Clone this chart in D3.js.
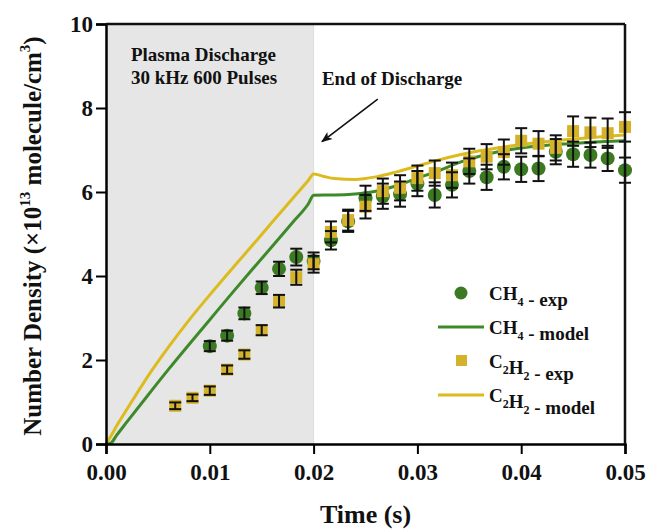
<html>
<head>
  <script src="https://d3js.org/d3.v7.min.js"></script>
  <style>
    body { margin: 0; background: #fff; }
    text { font-family: "Liberation Serif", "Times New Roman", serif; font-weight: bold; }
  </style>
</head>
<body>
<script>
  var width = 646, height = 532;
  var margin = {top: 24, right: 21, bottom: 88, left: 106};

  // experimental points (time in s, density x1e13)
  var ch4Time = [0.0100, 0.01167, 0.01333, 0.0150, 0.01667, 0.01833, 0.0200, 0.02167, 0.02333, 0.0250,
                 0.02667, 0.02833, 0.0300, 0.03167, 0.03333, 0.0350, 0.03667, 0.03833, 0.0400, 0.04167,
                 0.04333, 0.0450, 0.04667, 0.04833, 0.0500];
  var ch4Exp  = [2.33, 2.58, 3.11, 3.72, 4.17, 4.45, 4.36, 4.85, 5.30, 5.85,
                 5.90, 5.95, 6.20, 5.93, 6.17, 6.50, 6.35, 6.60, 6.54, 6.56,
                 6.96, 6.90, 6.88, 6.80, 6.52];
  var ch4Err  = [0.12, 0.12, 0.14, 0.15, 0.17, 0.2, 0.2, 0.22, 0.25, 0.3,
                 0.3, 0.3, 0.3, 0.3, 0.3, 0.3, 0.3, 0.3, 0.3, 0.3,
                 0.3, 0.3, 0.3, 0.3, 0.3];

  var c2h2Time = [0.00667, 0.00833, 0.0100, 0.01167, 0.01333, 0.0150, 0.01667, 0.01833, 0.0200, 0.02167,
                  0.02333, 0.0250, 0.02667, 0.02833, 0.0300, 0.03167, 0.03333, 0.0350, 0.03667, 0.03833,
                  0.0400, 0.04167, 0.04333, 0.0450, 0.04667, 0.04833, 0.0500];
  var c2h2Exp  = [0.91, 1.10, 1.27, 1.77, 2.13, 2.71, 3.40, 3.97, 4.28, 5.05,
                  5.33, 5.65, 6.02, 6.10, 6.33, 6.45, 6.40, 6.73, 6.84, 6.95,
                  7.22, 7.15, 7.05, 7.45, 7.42, 7.40, 7.55];
  var c2h2Err  = [0.08, 0.08, 0.1, 0.1, 0.1, 0.12, 0.15, 0.18, 0.2, 0.25,
                  0.25, 0.28, 0.3, 0.3, 0.3, 0.3, 0.3, 0.3, 0.3, 0.3,
                  0.3, 0.3, 0.3, 0.35, 0.35, 0.35, 0.35];

  // model curves
  var modelTime = [0, 0.0005, 0.001, 0.002, 0.004, 0.006, 0.008, 0.010, 0.012, 0.014, 0.016, 0.018, 0.0195, 0.020,
                   0.021, 0.022, 0.024, 0.026, 0.028, 0.030, 0.032, 0.034, 0.036, 0.038, 0.040,
                   0.042, 0.044, 0.046, 0.048, 0.050];
  var ch4Model  = [0, 0.03, 0.2, 0.52, 1.15, 1.77, 2.37, 2.96, 3.55, 4.13, 4.70, 5.28, 5.72, 5.92,
                   5.93, 5.93, 5.95, 6.02, 6.15, 6.33, 6.50, 6.70, 6.85, 6.97, 7.05,
                   7.10, 7.14, 7.17, 7.20, 7.22];
  var c2h2Model = [0, 0.2, 0.42, 0.82, 1.60, 2.30, 2.95, 3.55, 4.13, 4.70, 5.28, 5.85, 6.28, 6.43,
                   6.37, 6.32, 6.30, 6.36, 6.48, 6.62, 6.76, 6.88, 6.98, 7.06, 7.13,
                   7.19, 7.24, 7.28, 7.32, 7.36];

  var xTicks = [0, 0.01, 0.02, 0.03, 0.04, 0.05];
  var yTicks = [0, 2, 4, 6, 8, 10];

  var green = "#3b7a23", greenLine = "#3e8a2b";
  var yellow = "#d5b22b", yellowLine = "#dcbb1e";

  var svg = d3.select("body").append("svg")
      .attr("width", width).attr("height", height);

  var x = d3.scaleLinear().domain([0, 0.05]).range([margin.left, width - margin.right]);
  var y = d3.scaleLinear().domain([0, 10]).range([height - margin.bottom, margin.top]);

  // discharge shading
  svg.append("rect")
      .attr("x", x(0)).attr("y", y(10))
      .attr("width", x(0.02) - x(0)).attr("height", y(0) - y(10))
      .attr("fill", "#e6e6e6");
  svg.append("line")
      .attr("x1", x(0.02)).attr("x2", x(0.02)).attr("y1", y(0)).attr("y2", y(10))
      .attr("stroke", "#dcdcdc").attr("stroke-width", 1);

  // model lines
  var line = d3.line().x(function(d) { return x(d[0]); }).y(function(d) { return y(d[1]); })
      .curve(d3.curveMonotoneX);
  svg.append("path").datum(d3.zip(modelTime, c2h2Model)).attr("d", line)
      .attr("fill", "none").attr("stroke", yellowLine).attr("stroke-width", 3);
  svg.append("path").datum(d3.zip(modelTime, ch4Model)).attr("d", line)
      .attr("fill", "none").attr("stroke", greenLine).attr("stroke-width", 3);

  var ch4 = d3.zip(ch4Time, ch4Exp, ch4Err);
  var c2h2 = d3.zip(c2h2Time, c2h2Exp, c2h2Err);

  svg.append("g").selectAll("circle").data(ch4).enter().append("circle")
      .attr("cx", function(d) { return x(d[0]); })
      .attr("cy", function(d) { return y(d[1]); })
      .attr("r", 7).attr("fill", green);

  svg.append("g").selectAll("rect").data(c2h2).enter().append("rect")
      .attr("x", function(d) { return x(d[0]) - 6; })
      .attr("y", function(d) { return y(d[1]) - 6; })
      .attr("width", 12).attr("height", 12).attr("fill", yellow);

  // error bars on top
  function errBars(data) {
    var g = svg.append("g").attr("stroke", "#111").attr("stroke-width", 2);
    data.forEach(function(d) {
      var cx = x(d[0]), y1 = y(d[1] - d[2]), y2 = y(d[1] + d[2]);
      g.append("line").attr("x1", cx).attr("x2", cx).attr("y1", y1).attr("y2", y2);
      g.append("line").attr("x1", cx - 6).attr("x2", cx + 6).attr("y1", y1).attr("y2", y1);
      g.append("line").attr("x1", cx - 6).attr("x2", cx + 6).attr("y1", y2).attr("y2", y2);
    });
  }
  errBars(ch4);
  errBars(c2h2);

  // axes
  var xAxis = svg.append("g").attr("transform", "translate(0," + y(0) + ")");
  xAxis.call(d3.axisBottom(x).tickValues(d3.range(0, 0.0501, 0.005)).tickSize(6).tickFormat(""));
  xAxis.call(d3.axisBottom(x).tickValues(xTicks).tickSize(10).tickFormat(d3.format(".2f")));
  xAxis.selectAll(".domain").attr("stroke-width", 2.5);
  xAxis.selectAll(".tick line").attr("stroke-width", 2);
  xAxis.selectAll("text").attr("font-size", 23).attr("fill", "#111")
      .attr("font-family", "Liberation Serif").attr("font-weight", "bold").attr("dy", "1.02em");

  var yAxis = svg.append("g").attr("transform", "translate(" + x(0) + ",0)");
  yAxis.call(d3.axisLeft(y).tickValues(d3.range(0, 11, 1)).tickSize(6).tickFormat(""));
  yAxis.call(d3.axisLeft(y).tickValues(yTicks).tickSize(10).tickFormat(d3.format("d")));
  yAxis.selectAll(".domain").attr("stroke-width", 2.5);
  yAxis.selectAll(".tick line").attr("stroke-width", 2);
  yAxis.selectAll("text").attr("font-size", 23).attr("fill", "#111")
      .attr("font-family", "Liberation Serif").attr("font-weight", "bold").attr("x", -13);

  // top and right frame
  svg.append("line").attr("x1", x(0)).attr("x2", x(0.05)).attr("y1", y(10)).attr("y2", y(10))
      .attr("stroke", "#111").attr("stroke-width", 2.5);
  svg.append("line").attr("x1", x(0.05)).attr("x2", x(0.05)).attr("y1", y(10)).attr("y2", y(0))
      .attr("stroke", "#111").attr("stroke-width", 2.5);

  // axis titles
  svg.append("text").attr("x", (x(0) + x(0.05)) / 2).attr("y", 523)
      .attr("text-anchor", "middle").attr("font-size", 26).attr("fill", "#111").text("Time (s)");

  var yl = svg.append("text").attr("transform", "translate(41," + (y(5) + 2) + ") rotate(-90)")
      .attr("text-anchor", "middle").attr("font-size", 25).attr("fill", "#111");
  yl.append("tspan").text("Number Density (\u00d710");
  yl.append("tspan").attr("font-size", 15).attr("dy", -11).text("13");
  yl.append("tspan").attr("dy", 11).text(" molecule/cm");
  yl.append("tspan").attr("font-size", 15).attr("dy", -11).text("3");
  yl.append("tspan").attr("dy", 11).text(")");

  // annotations
  svg.append("text").attr("x", x(0.0024)).attr("y", 61).attr("font-size", 19).attr("fill", "#111")
      .text("Plasma Discharge");
  svg.append("text").attr("x", x(0.0024)).attr("y", 84).attr("font-size", 19).attr("fill", "#111")
      .text("30 kHz 600 Pulses");
  svg.append("text").attr("x", x(0.0208)).attr("y", 85).attr("font-size", 19).attr("fill", "#111")
      .text("End of Discharge");

  svg.append("defs").append("marker").attr("id", "arr")
      .attr("viewBox", "0 0 10 10").attr("refX", 9).attr("refY", 5)
      .attr("markerWidth", 7).attr("markerHeight", 7).attr("orient", "auto")
      .append("path").attr("d", "M0,1 L10,5 L0,9 L2.5,5 Z").attr("fill", "#111");
  svg.append("line")
      .attr("x1", x(0.02618)).attr("y1", y(8.21)).attr("x2", x(0.02081)).attr("y2", y(7.2))
      .attr("stroke", "#111").attr("stroke-width", 1.6).attr("marker-end", "url(#arr)");

  // legend
  var lg = svg.append("g").attr("fill", "#111").attr("font-size", 19);
  var lx = 438, tx = 489;
  lg.append("circle").attr("cx", 461).attr("cy", 293).attr("r", 6.5).attr("fill", green);
  lg.append("line").attr("x1", lx).attr("x2", lx + 46).attr("y1", 327).attr("y2", 327)
      .attr("stroke", greenLine).attr("stroke-width", 3);
  lg.append("rect").attr("x", 456).attr("y", 355).attr("width", 11).attr("height", 11).attr("fill", yellow);
  lg.append("line").attr("x1", lx).attr("x2", lx + 46).attr("y1", 395).attr("y2", 395)
      .attr("stroke", yellowLine).attr("stroke-width", 3);

  function legendText(yy, parts) {
    var t = lg.append("text").attr("x", tx).attr("y", yy);
    parts.forEach(function(p) {
      if (p.sub) {
        t.append("tspan").attr("font-size", 12).attr("dy", 6).text(p.sub);
        t.append("tspan").attr("dy", -6).text("");
      } else {
        t.append("tspan").text(p.t);
      }
    });
  }
  legendText(300, [{t: "CH"}, {sub: "4"}, {t: " - exp"}]);
  legendText(334, [{t: "CH"}, {sub: "4"}, {t: " - model"}]);
  legendText(368, [{t: "C"}, {sub: "2"}, {t: "H"}, {sub: "2"}, {t: " - exp"}]);
  legendText(402, [{t: "C"}, {sub: "2"}, {t: "H"}, {sub: "2"}, {t: " - model"}]);
</script>
</body>
</html>
